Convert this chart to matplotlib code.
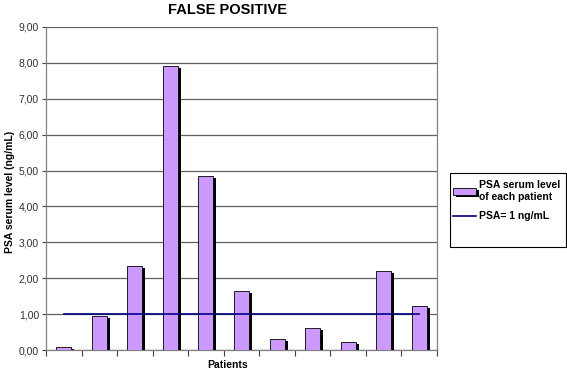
import matplotlib.pyplot as plt
import matplotlib.patheffects as pe
from matplotlib.patches import Rectangle
from matplotlib.ticker import FuncFormatter

plt.rcParams['font.family'] = ['Liberation Sans', 'DejaVu Sans']

patients = list(range(1, 12))
psa_values = [0.09, 0.94, 2.35, 7.92, 4.86, 1.64, 0.31, 0.61, 0.22, 2.20, 1.23]
threshold = [1.0] * len(patients)

W, H = 567, 372
fig = plt.figure(figsize=(W / 100, H / 100), dpi=100)
ax = fig.add_axes([46 / W, 1 - 350 / H, 391 / W, 323 / H])

x = [p - 1 for p in patients]
bars = ax.bar(x, psa_values, width=0.42, color="#CC99FF", edgecolor="black",
              linewidth=0.6, zorder=3, label="PSA serum level\nof each patient")
for b in bars:
    b.set_path_effects([pe.SimplePatchShadow(offset=(2.2, -1.5), shadow_rgbFace="black", alpha=1),
                        pe.Normal()])
line, = ax.plot(x, threshold, color="#000080", linewidth=1.2, zorder=4, label="PSA= 1 ng/mL")

ax.set_xlim(-0.5, len(patients) - 0.5)
ax.set_ylim(0, 9)
ax.set_yticks(range(0, 10))
ax.yaxis.set_major_formatter(FuncFormatter(lambda v, _: f"{v:.2f}".replace(".", ",")))
ax.set_xticks([i - 0.5 for i in range(len(patients) + 1)])
ax.set_xticklabels([])
ax.tick_params(axis="x", direction="out", length=4, width=0.8, color="#404040")
ax.tick_params(axis="y", direction="out", length=3, width=0.8, color="#404040",
               labelsize=7.5, labelcolor="#303030", pad=2)
ax.grid(axis="y", color="#606060", linewidth=0.9, zorder=0)
ax.spines["top"].set_visible(False)
for s in ["left", "right", "bottom"]:
    ax.spines[s].set_color("#808080")
    ax.spines[s].set_linewidth(0.9)

fig.text(228 / W, 1 - 10 / H, "FALSE POSITIVE", fontsize=10.5, fontweight="bold",
         ha="center", va="center")
fig.text(10 / W, 1 - 192 / H, "PSA serum level (ng/mL)", fontsize=7.5, fontweight="bold",
         rotation=90, ha="center", va="center")
fig.text(228 / W, 1 - 365 / H, "Patients", fontsize=7.5, fontweight="bold",
         ha="center", va="center")

# legend frame drawn separately to match the taller box
fig.patches.append(Rectangle((450 / W, 1 - 247 / H), 116 / W, 74 / H,
                             transform=fig.transFigure, fill=False,
                             edgecolor="black", linewidth=0.8))
leg = fig.legend([bars, line], ["PSA serum level\nof each patient", "PSA= 1 ng/mL"],
                 loc="upper left", bbox_to_anchor=(445 / W, 1 - 172 / H),
                 frameon=False, handlelength=2.2, handleheight=0.6, handletextpad=0.3,
                 borderpad=0.3, labelspacing=0.9, prop={"weight": "bold", "size": 7.5})

fig.savefig("out.png", dpi=100)
